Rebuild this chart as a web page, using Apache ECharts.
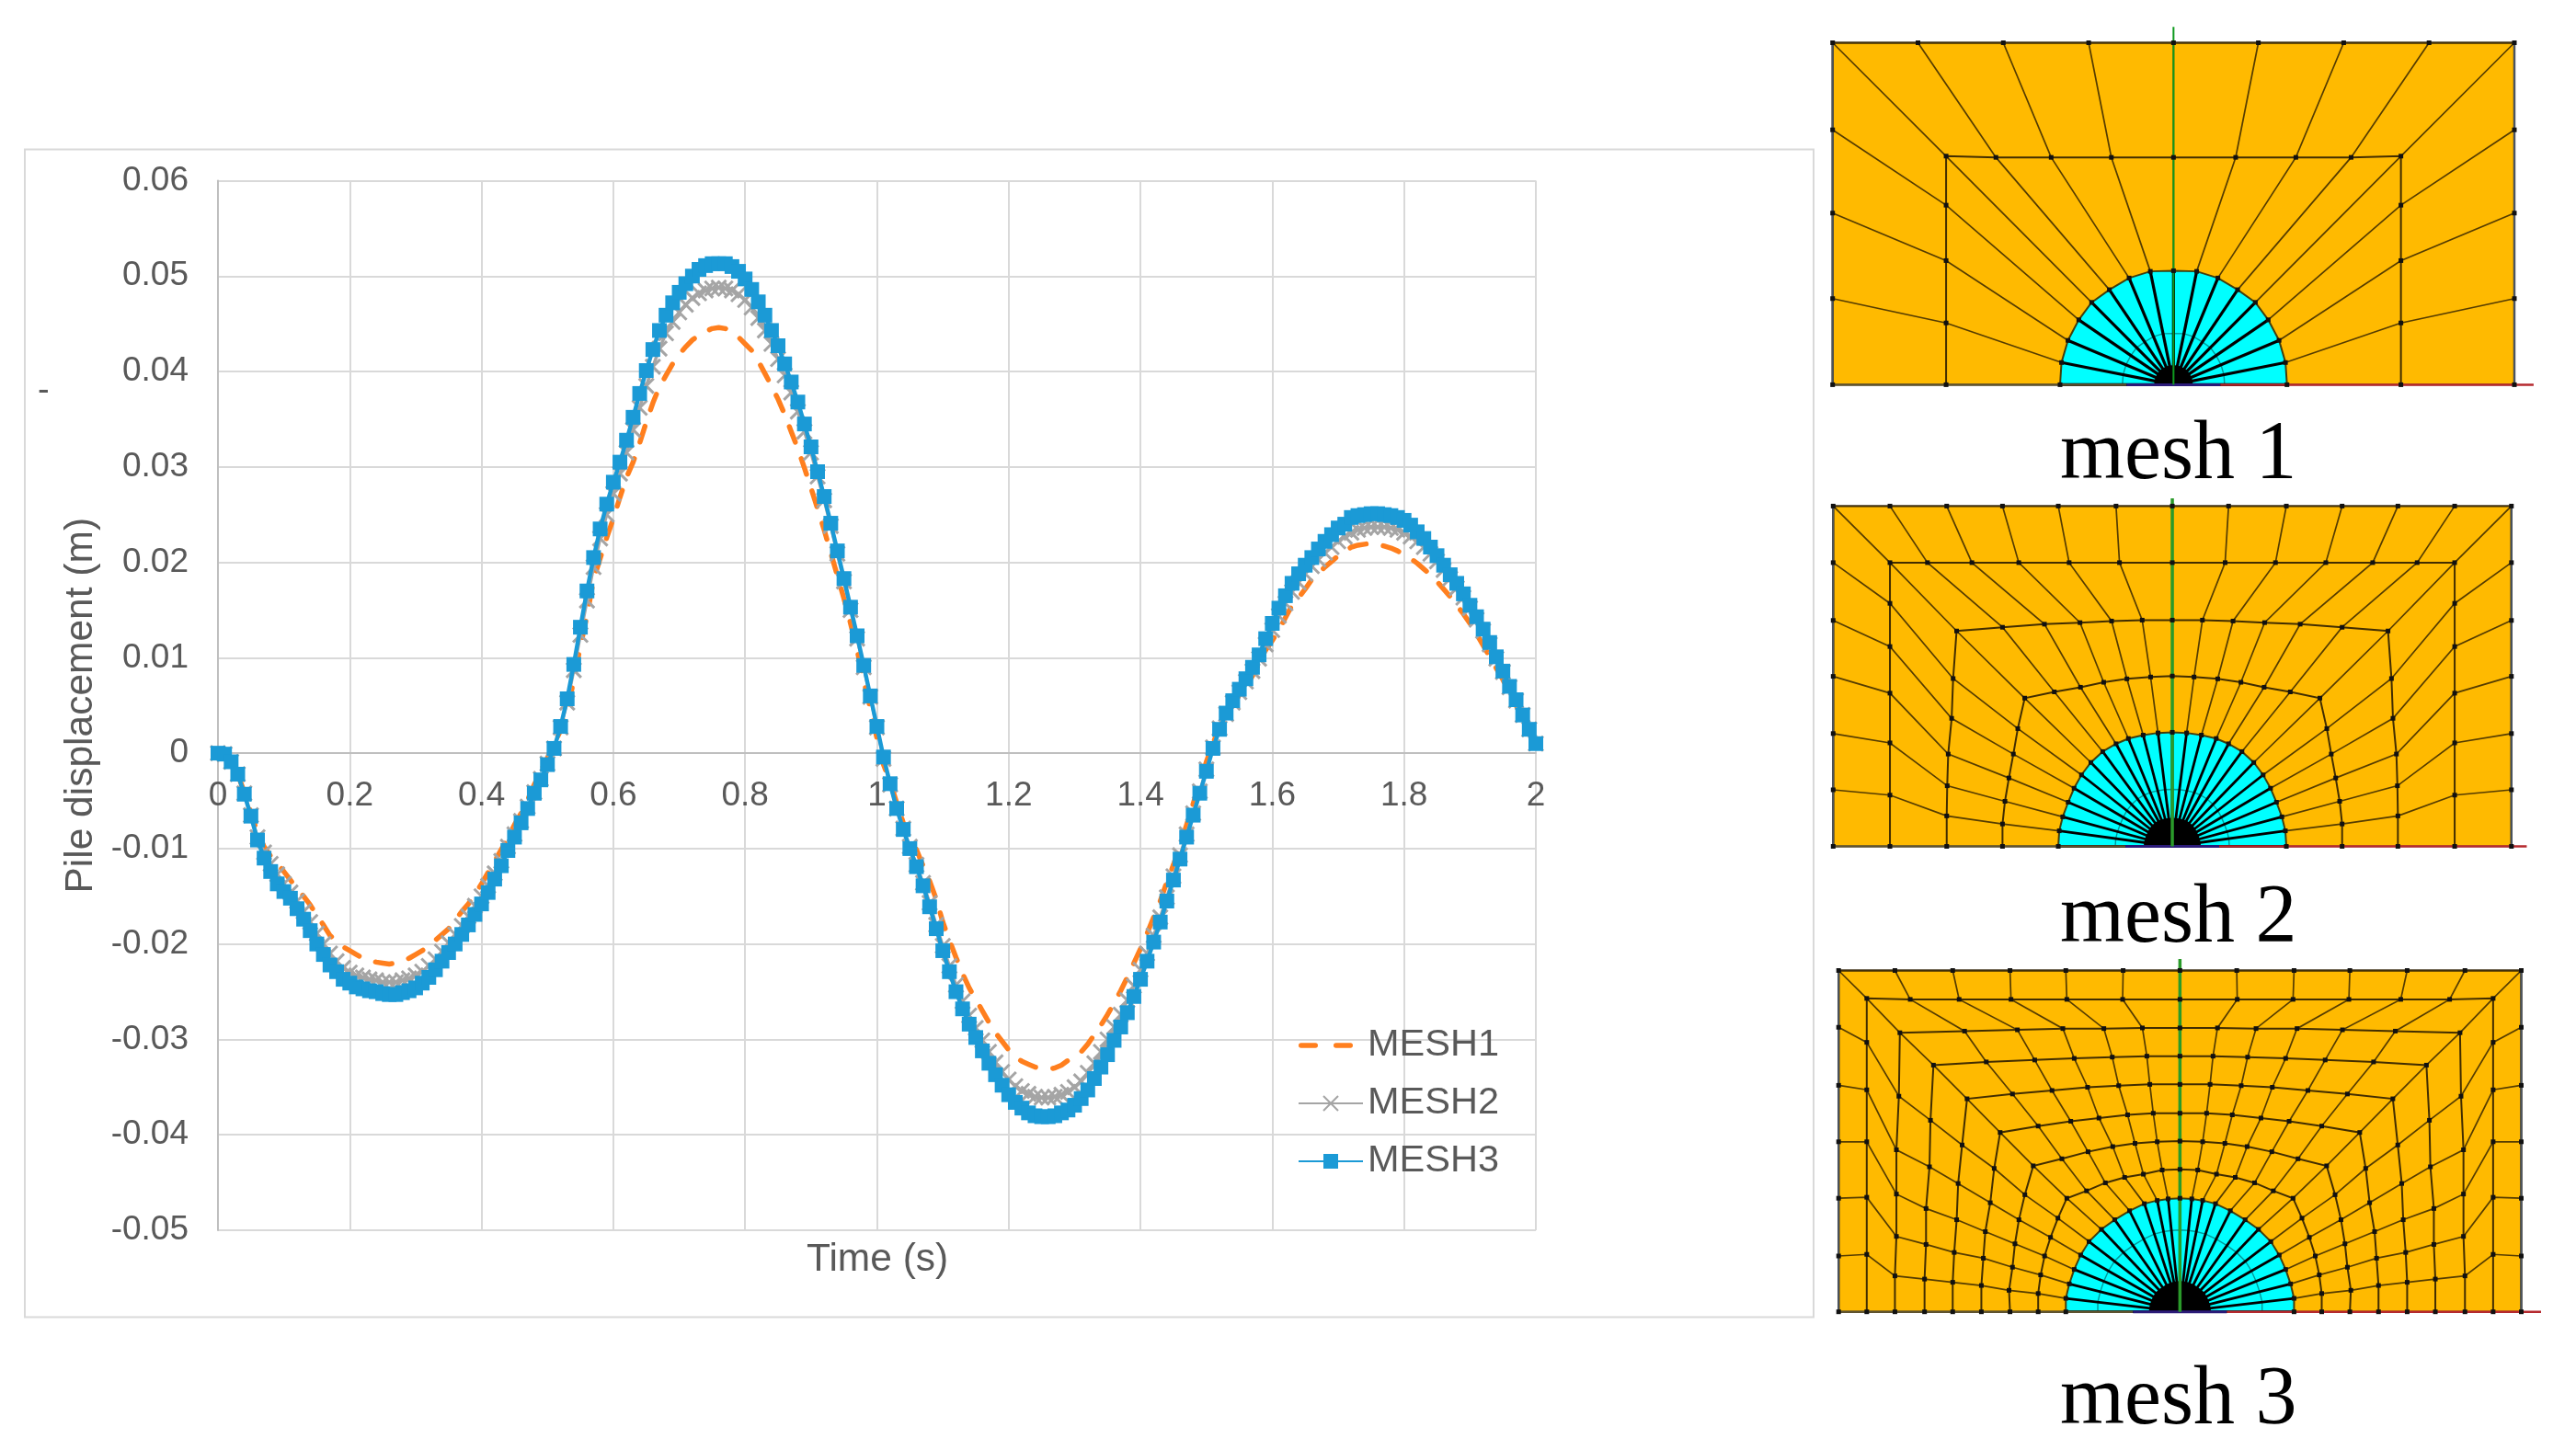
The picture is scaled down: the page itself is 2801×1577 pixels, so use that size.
<!DOCTYPE html>
<html>
<head>
<meta charset="utf-8">
<title>Pile displacement</title>
<script src="https://cdn.jsdelivr.net/npm/echarts@6/dist/echarts.min.js"></script>
<style>
	html, body { margin: 0; padding: 0; background: #fff; }
	#chart { width: 2801px; height: 1577px; }
</style>
</head>
<body>
<div id="chart"></div>
<script>
var times = [
	0, 0.01, 0.02, 0.03, 0.04, 0.05, 0.06, 0.07, 0.08, 0.09,
	0.1, 0.11, 0.12, 0.13, 0.14, 0.15, 0.16, 0.17, 0.18, 0.19,
	0.2, 0.21, 0.22, 0.23, 0.24, 0.25, 0.26, 0.27, 0.28, 0.29,
	0.3, 0.31, 0.32, 0.33, 0.34, 0.35, 0.36, 0.37, 0.38, 0.39,
	0.4, 0.41, 0.42, 0.43, 0.44, 0.45, 0.46, 0.47, 0.48, 0.49,
	0.5, 0.51, 0.52, 0.53, 0.54, 0.55, 0.56, 0.57, 0.58, 0.59,
	0.6, 0.61, 0.62, 0.63, 0.64, 0.65, 0.66, 0.67, 0.68, 0.69,
	0.7, 0.71, 0.72, 0.73, 0.74, 0.75, 0.76, 0.77, 0.78, 0.79,
	0.8, 0.81, 0.82, 0.83, 0.84, 0.85, 0.86, 0.87, 0.88, 0.89,
	0.9, 0.91, 0.92, 0.93, 0.94, 0.95, 0.96, 0.97, 0.98, 0.99,
	1, 1.01, 1.02, 1.03, 1.04, 1.05, 1.06, 1.07, 1.08, 1.09,
	1.1, 1.11, 1.12, 1.13, 1.14, 1.15, 1.16, 1.17, 1.18, 1.19,
	1.2, 1.21, 1.22, 1.23, 1.24, 1.25, 1.26, 1.27, 1.28, 1.29,
	1.3, 1.31, 1.32, 1.33, 1.34, 1.35, 1.36, 1.37, 1.38, 1.39,
	1.4, 1.41, 1.42, 1.43, 1.44, 1.45, 1.46, 1.47, 1.48, 1.49,
	1.5, 1.51, 1.52, 1.53, 1.54, 1.55, 1.56, 1.57, 1.58, 1.59,
	1.6, 1.61, 1.62, 1.63, 1.64, 1.65, 1.66, 1.67, 1.68, 1.69,
	1.7, 1.71, 1.72, 1.73, 1.74, 1.75, 1.76, 1.77, 1.78, 1.79,
	1.8, 1.81, 1.82, 1.83, 1.84, 1.85, 1.86, 1.87, 1.88, 1.89,
	1.9, 1.91, 1.92, 1.93, 1.94, 1.95, 1.96, 1.97, 1.98, 1.99,
	2
];

var mesh1Values = [
	0, -0.0001, -0.0009, -0.0022, -0.0041, -0.0063, -0.0083, -0.0098, -0.0108, -0.0116,
	-0.0124, -0.0133, -0.0142, -0.0150, -0.0159, -0.0170, -0.0180, -0.0191, -0.0197, -0.0203,
	-0.0207, -0.0211, -0.0215, -0.0217, -0.0219, -0.0220, -0.0221, -0.0220, -0.0218, -0.0215,
	-0.0211, -0.0207, -0.0202, -0.0196, -0.0190, -0.0184, -0.0175, -0.0166, -0.0158, -0.0148,
	-0.0137, -0.0125, -0.0113, -0.0101, -0.0089, -0.0075, -0.0063, -0.0049, -0.0033, -0.0019,
	-0.0005, 0.0009, 0.0024, 0.0044, 0.0077, 0.0112, 0.0144, 0.0182, 0.0204, 0.0226,
	0.0246, 0.0268, 0.0289, 0.0305, 0.0325, 0.0347, 0.0367, 0.0384, 0.0396, 0.0408,
	0.0418, 0.0426, 0.0433, 0.0438, 0.0442, 0.0445, 0.0446, 0.0445, 0.0442, 0.0436,
	0.0429, 0.0422, 0.0411, 0.0398, 0.0385, 0.0371, 0.0355, 0.0337, 0.0319, 0.0299,
	0.0278, 0.0256, 0.0234, 0.0210, 0.0186, 0.0162, 0.0136, 0.0108, 0.0076, 0.0047,
	0.0016, -0.0012, -0.0030, -0.0052, -0.0073, -0.0091, -0.0101, -0.0118, -0.0134, -0.0153,
	-0.0177, -0.0196, -0.0214, -0.0231, -0.0246, -0.0258, -0.0270, -0.0282, -0.0293, -0.0302,
	-0.0311, -0.0318, -0.0323, -0.0326, -0.0329, -0.0331, -0.0331, -0.0330, -0.0327, -0.0322,
	-0.0318, -0.0313, -0.0305, -0.0295, -0.0285, -0.0274, -0.0262, -0.0249, -0.0235, -0.0220,
	-0.0205, -0.0189, -0.0172, -0.0155, -0.0135, -0.0117, -0.0097, -0.0075, -0.0053, -0.0031,
	-0.0009, 0.0010, 0.0028, 0.0040, 0.0050, 0.0061, 0.0070, 0.0081, 0.0094, 0.0108,
	0.0118, 0.0129, 0.0142, 0.0155, 0.0163, 0.0172, 0.0182, 0.0189, 0.0195, 0.0201,
	0.0207, 0.0212, 0.0216, 0.0218, 0.0219, 0.0220, 0.0219, 0.0217, 0.0215, 0.0212,
	0.0208, 0.0204, 0.0199, 0.0193, 0.0187, 0.0180, 0.0172, 0.0164, 0.0155, 0.0146,
	0.0136, 0.0125, 0.0113, 0.0101, 0.0089, 0.0077, 0.0063, 0.0050, 0.0037, 0.0023,
	0.0009
];

var mesh2Values = [
	0, -0.0001, -0.0009, -0.0022, -0.0042, -0.0065, -0.0088, -0.0104, -0.0116, -0.0127,
	-0.0137, -0.0146, -0.0155, -0.0166, -0.0177, -0.0189, -0.0200, -0.0210, -0.0218, -0.0225,
	-0.0230, -0.0233, -0.0235, -0.0237, -0.0238, -0.0240, -0.0240, -0.0240, -0.0238, -0.0236,
	-0.0233, -0.0229, -0.0223, -0.0216, -0.0208, -0.0199, -0.0190, -0.0181, -0.0171, -0.0160,
	-0.0150, -0.0139, -0.0126, -0.0113, -0.0098, -0.0085, -0.0071, -0.0056, -0.0041, -0.0027,
	-0.0011, 0.0005, 0.0027, 0.0053, 0.0087, 0.0124, 0.0160, 0.0195, 0.0225, 0.0250,
	0.0272, 0.0293, 0.0315, 0.0339, 0.0362, 0.0385, 0.0405, 0.0424, 0.0440, 0.0452,
	0.0462, 0.0470, 0.0477, 0.0482, 0.0485, 0.0487, 0.0488, 0.0487, 0.0485, 0.0481,
	0.0475, 0.0467, 0.0456, 0.0443, 0.0429, 0.0413, 0.0396, 0.0378, 0.0358, 0.0337,
	0.0315, 0.0290, 0.0265, 0.0238, 0.0209, 0.0180, 0.0150, 0.0120, 0.0090, 0.0059,
	0.0027, -0.0006, -0.0033, -0.0058, -0.0079, -0.0098, -0.0117, -0.0136, -0.0157, -0.0180,
	-0.0202, -0.0223, -0.0243, -0.0260, -0.0275, -0.0288, -0.0301, -0.0313, -0.0324, -0.0334,
	-0.0342, -0.0349, -0.0354, -0.0357, -0.0360, -0.0361, -0.0361, -0.0360, -0.0358, -0.0355,
	-0.0350, -0.0344, -0.0335, -0.0325, -0.0313, -0.0300, -0.0287, -0.0274, -0.0259, -0.0244,
	-0.0227, -0.0210, -0.0191, -0.0172, -0.0151, -0.0129, -0.0107, -0.0085, -0.0063, -0.0040,
	-0.0017, 0.0006, 0.0026, 0.0041, 0.0053, 0.0064, 0.0075, 0.0086, 0.0099, 0.0114,
	0.0129, 0.0144, 0.0157, 0.0169, 0.0179, 0.0188, 0.0196, 0.0203, 0.0210, 0.0216,
	0.0222, 0.0227, 0.0231, 0.0234, 0.0236, 0.0237, 0.0237, 0.0237, 0.0236, 0.0234,
	0.0231, 0.0227, 0.0222, 0.0216, 0.0209, 0.0201, 0.0192, 0.0183, 0.0173, 0.0163,
	0.0152, 0.0140, 0.0128, 0.0114, 0.0099, 0.0085, 0.0069, 0.0055, 0.0040, 0.0025,
	0.0010
];

var mesh3Values = [
	0, -0.0001, -0.0009, -0.0022, -0.0043, -0.0066, -0.0091, -0.0110, -0.0124, -0.0137,
	-0.0145, -0.0152, -0.0163, -0.0174, -0.0186, -0.0200, -0.0211, -0.0222, -0.0229, -0.0237,
	-0.0241, -0.0245, -0.0247, -0.0249, -0.0250, -0.0252, -0.0253, -0.0253, -0.0251, -0.0249,
	-0.0246, -0.0241, -0.0235, -0.0227, -0.0218, -0.0209, -0.0200, -0.0190, -0.0180, -0.0169,
	-0.0158, -0.0146, -0.0132, -0.0118, -0.0102, -0.0088, -0.0073, -0.0058, -0.0042, -0.0028,
	-0.0012, 0.0005, 0.0028, 0.0057, 0.0093, 0.0132, 0.0170, 0.0205, 0.0235, 0.0261,
	0.0284, 0.0305, 0.0328, 0.0352, 0.0377, 0.0401, 0.0423, 0.0443, 0.0459, 0.0472,
	0.0483, 0.0492, 0.0500, 0.0507, 0.0511, 0.0513, 0.0513, 0.0513, 0.0510, 0.0505,
	0.0497, 0.0486, 0.0473, 0.0459, 0.0443, 0.0427, 0.0408, 0.0389, 0.0368, 0.0345,
	0.0321, 0.0295, 0.0269, 0.0241, 0.0212, 0.0183, 0.0153, 0.0123, 0.0092, 0.0060,
	0.0028, -0.0004, -0.0032, -0.0058, -0.0080, -0.0100, -0.0119, -0.0139, -0.0161, -0.0184,
	-0.0207, -0.0229, -0.0250, -0.0268, -0.0284, -0.0298, -0.0312, -0.0325, -0.0337, -0.0348,
	-0.0358, -0.0366, -0.0372, -0.0377, -0.0380, -0.0381, -0.0381, -0.0380, -0.0377, -0.0374,
	-0.0369, -0.0362, -0.0353, -0.0341, -0.0329, -0.0316, -0.0301, -0.0287, -0.0272, -0.0255,
	-0.0237, -0.0218, -0.0198, -0.0177, -0.0155, -0.0133, -0.0111, -0.0088, -0.0065, -0.0042,
	-0.0019, 0.0005, 0.0025, 0.0042, 0.0055, 0.0067, 0.0078, 0.0090, 0.0103, 0.0120,
	0.0136, 0.0152, 0.0165, 0.0178, 0.0188, 0.0197, 0.0205, 0.0214, 0.0222, 0.0229,
	0.0236, 0.0240, 0.0247, 0.0249, 0.0250, 0.0251, 0.0251, 0.0250, 0.0249, 0.0247,
	0.0244, 0.0239, 0.0232, 0.0225, 0.0216, 0.0207, 0.0197, 0.0187, 0.0178, 0.0167,
	0.0155, 0.0143, 0.0130, 0.0116, 0.0101, 0.0086, 0.0070, 0.0056, 0.0040, 0.0025,
	0.0010
];

// mesh drawings: left half of each ring, outermost first, [offset from centre, height above base]
var mesh1Rings = [
	[[-691,0],[-691,272],[-691,542],[-691,805],[-691,1080],[-518,1080],[-345,1080],[-172,1080],[0,1080]],
	[[-461,0],[-461,195],[-461,392],[-461,567],[-461,722],[-360,718],[-248,718],[-126,718],[0,718]],
	[[-230,0],[-227,70],[-214,140],[-192,205],[-166,260],[-130,300],[-90,337],[-47,358],[0,360]]
];
var mesh2Rings = [
	[[-687,0],[-687,182],[-687,363],[-687,547],[-687,727],[-687,913],[-687,1095],[-572,1095],[-457,1095],[-344,1095],[-231,1095],[-114,1095],[0,1095]],
	[[-572,0],[-572,165],[-572,333],[-572,493],[-572,643],[-572,782],[-572,913],[-496,913],[-406,913],[-311,913],[-209,913],[-107,913],[0,913]],
	[[-457,0],[-457,98],[-456,195],[-454,297],[-447,412],[-444,540],[-437,693],[-344,705],[-259,715],[-187,720],[-123,725],[-61,728],[0,728]],
	[[-344,0],[-344,72],[-339,145],[-331,220],[-322,297],[-313,379],[-299,477],[-239,497],[-186,512],[-139,528],[-92,539],[-44,545],[0,548]],
	[[-231,0],[-229,50],[-222,95],[-211,142],[-199,187],[-184,230],[-165,270],[-141,305],[-114,330],[-89,347],[-59,358],[-29,365],[0,367]]
];
var mesh3Rings = [
	[[-691,0],[-691,174],[-691,354],[-691,530],[-691,706],[-691,887],[-691,1064],[-577,1064],[-460,1064],[-344,1064],[-231,1064],[-115,1064],[0,1064]],
	[[-634,0],[-634,179],[-634,357],[-634,530],[-634,692],[-634,840],[-634,977],[-546,974],[-447,974],[-342,974],[-229,974],[-116,974],[0,974]],
	[[-577,0],[-577,112],[-574,235],[-574,367],[-574,505],[-569,672],[-567,870],[-436,875],[-329,879],[-237,883],[-154,883],[-76,885],[0,885]],
	[[-517,0],[-517,102],[-514,210],[-514,322],[-507,452],[-505,597],[-499,769],[-392,779],[-294,785],[-214,790],[-137,794],[-67,797],[0,797]],
	[[-460,0],[-460,92],[-457,185],[-452,287],[-449,400],[-441,520],[-431,664],[-339,679],[-259,690],[-187,700],[-124,705],[-61,709],[0,709]],
	[[-402,0],[-402,82],[-398,167],[-394,250],[-384,340],[-376,447],[-364,559],[-287,579],[-221,594],[-164,604],[-106,614],[-54,619],[0,619]],
	[[-344,0],[-346,67],[-339,139],[-334,212],[-326,287],[-314,365],[-297,455],[-239,477],[-186,499],[-136,515],[-91,525],[-46,530],[0,532]],
	[[-287,0],[-287,57],[-282,115],[-274,174],[-262,232],[-247,292],[-229,354],[-189,377],[-151,402],[-112,419],[-74,429],[-36,442],[0,444]],
	[[-231,0],[-231,42],[-224,87],[-214,132],[-201,177],[-184,219],[-159,257],[-132,287],[-102,315],[-72,337],[-46,347],[-24,352],[0,354]]
];
var meshCaptions = ['mesh 1', 'mesh 2', 'mesh 3'];
var meshStemTop = [1130, 1120, 1100];
var meshRedEnd = [730, 718, 731];
var meshCoreSize = [0.17, 0.25, 0.27];
var meshInnerRing = [0.45, 0.5, 0.72];

// left half + mirrored right half
function wholeRing(half) {
	var ring = half.slice();
	for (var i = half.length - 2; i >= 0; i--) {
		ring.push([-half[i][0], half[i][1]]);
	}
	return ring;
}

function pairs(vals) {
	return times.map(function(t, i) {
		return [t, vals[i]];
	});
}

// one mesh panel, everything goes through api.coord of its hidden axes
function meshSeries(rings, idx) {
	var whole = rings.map(wholeRing);
	var outer = whole[0];
	var rim = whole[whole.length - 1];
	return {
		type: 'custom',
		xAxisIndex: idx + 1,
		yAxisIndex: idx + 1,
		z: 1,
		silent: true,
		data: [[0, 0]],
		renderItem: function(params, api) {
			var kids = [];
			function pts(list) {
				return list.map(function(p) { return api.coord(p); });
			}
			function poly(list, fill) {
				kids.push({ type: 'polygon', shape: { points: pts(list) }, style: { fill: fill } });
			}
			function stroke(list, color, w) {
				kids.push({ type: 'polyline', shape: { points: pts(list) }, style: { fill: 'none', stroke: color, lineWidth: w } });
			}
			function scaled(list, k) {
				return list.map(function(p) { return [p[0] * k, p[1] * k]; });
			}
			poly(outer, '#FFBA00');
			poly(rim, '#00FFFF');
			// spokes between rings
			for (var n = 0; n < rim.length; n++) {
				var spoke = whole.map(function(ring) { return ring[n]; });
				stroke(spoke, 'rgba(55,38,0,0.85)', 1.7);
				stroke([rim[n], [0, 0]], '#000', idx === 0 ? 3.2 : 2.8);
			}
			stroke(scaled(rim, meshInnerRing[idx]), 'rgba(0,0,0,0.4)', 1.4);
			// rings
			whole.forEach(function(ring, r) {
				var dark = r === whole.length - 1 ? 'rgba(60,45,0,0.9)' : 'rgba(45,30,0,0.9)';
				stroke(ring, dark, r === 0 ? 2.4 : 2);
			});
			stroke(outer.slice(0, Math.floor(outer.length / 4) + 1), '#4a5563', 2);
			stroke(outer.slice(-Math.floor(outer.length / 4) - 1), '#4a5563', 2);
			// black core where the spokes meet
			poly(scaled(rim, meshCoreSize[idx]), '#000');
			// base line and centre stem
			stroke([outer[0], [-95, 0]], '#5f5330', 2.5);
			stroke([[-95, 0], [95, 0]], '#2b1a78', 3);
			stroke([[95, 0], [meshRedEnd[idx], 0]], '#b5292e', 2.5);
			stroke([[0, 0], [0, meshStemTop[idx]]], idx === 0 ? '#0f9a1f' : '#2a9a2a', idx === 0 ? 2 : 3.5);
			// nodes
			whole.forEach(function(ring) {
				ring.forEach(function(p) {
					var c = api.coord(p);
					kids.push({ type: 'rect', shape: { x: c[0] - 2.5, y: c[1] - 2.5, width: 5, height: 5 }, style: { fill: '#111' } });
				});
			});
			return { type: 'group', children: kids };
		}
	};
}

function hiddenAxis(min, max) {
	return { type: 'value', show: false, min: min, max: max };
}

var textGrey = '#595959';
var sansFont = '"Liberation Sans", Arial, sans-serif';
var captionFont = '90px "Liberation Serif", serif';
// two dashes for the MESH1 legend key, the last point keeps the key as wide as the others
var dashIcon = 'path://M2.75 0H18.25A2.75 2.75 0 0 1 18.25 5.5H2.75A2.75 2.75 0 0 1 2.75 0ZM40.75 0H56.25A2.75 2.75 0 0 1 56.25 5.5H40.75A2.75 2.75 0 0 1 40.75 0ZM70 2.75L70 2.75Z';

var myChart = echarts.init(document.getElementById('chart'));
var option = {
	backgroundColor: '#fff',
	animation: false,
	grid: [
		{ left: 237, top: 196.5, width: 1433, height: 1141.5 },
		{ left: 1992.7, top: 46.5, width: 741.3, height: 371.9 },
		{ left: 1993.3, top: 550.4, width: 737.5, height: 370.1 },
		{ left: 1999.2, top: 1055.5, width: 742.3, height: 371.2 }
	],
	xAxis: [{
		gridIndex: 0,
		type: 'value',
		min: 0,
		max: 2,
		interval: 0.2,
		position: 'bottom',
		offset: -519,
		axisLine: { onZero: false, lineStyle: { color: '#bfbfbf', width: 2 } },
		axisTick: { show: false },
		axisLabel: { color: textGrey, fontFamily: sansFont, fontSize: 37, margin: 28, showMinLabel: true, showMaxLabel: true },
		splitLine: { show: true, lineStyle: { color: '#d9d9d9', width: 2 } }
	},
	Object.assign(hiddenAxis(-691, 691), { gridIndex: 1 }),
	Object.assign(hiddenAxis(-687, 687), { gridIndex: 2 }),
	Object.assign(hiddenAxis(-691, 691), { gridIndex: 3 })],
	yAxis: [{
		gridIndex: 0,
		type: 'value',
		min: -0.05,
		max: 0.06,
		interval: 0.01,
		name: 'Pile displacement (m)',
		nameLocation: 'middle',
		nameGap: 127,
		nameTextStyle: { color: textGrey, fontFamily: sansFont, fontSize: 42.5 },
		axisLine: { show: true, onZero: false, lineStyle: { color: '#bfbfbf', width: 2 } },
		axisTick: { show: false },
		axisLabel: { color: textGrey, fontFamily: sansFont, fontSize: 37, margin: 32, padding: [8, 0, 0, 0], showMinLabel: true, showMaxLabel: true },
		splitLine: { show: true, lineStyle: { color: '#d9d9d9', width: 2 } }
	},
	Object.assign(hiddenAxis(0, 1080), { gridIndex: 1 }),
	Object.assign(hiddenAxis(0, 1095), { gridIndex: 2 }),
	Object.assign(hiddenAxis(0, 1064), { gridIndex: 3 })],
	legend: {
		data: [{ name: 'MESH1', icon: dashIcon }, { name: 'MESH2' }, { name: 'MESH3' }],
		orient: 'vertical',
		left: 1406,
		top: 1111,
		itemWidth: 70,
		itemHeight: 20,
		itemGap: 21,
		textStyle: { color: textGrey, fontFamily: sansFont, fontSize: 41.5, padding: [0, 0, 0, 0] }
	},
	series: [{
		name: 'MESH1',
		type: 'line',
		z: 2,
		data: pairs(mesh1Values),
		showSymbol: false,
		symbol: 'none',
		lineStyle: { color: '#FF7F1E', width: 5.5, type: [18, 19], cap: 'round' },
		itemStyle: { color: '#FF7F1E' }
	}, {
		name: 'MESH2',
		type: 'line',
		z: 3,
		data: pairs(mesh2Values),
		symbol: 'path://M0 0L10 10M10 0L0 10',
		symbolSize: 16,
		lineStyle: { color: '#A5A5A5', width: 3.5 },
		itemStyle: { color: 'none', borderColor: '#A5A5A5', borderWidth: 3 }
	}, {
		name: 'MESH3',
		type: 'line',
		z: 4,
		data: pairs(mesh3Values),
		symbol: 'rect',
		symbolSize: 16,
		lineStyle: { color: '#1B9AD6', width: 4.5 },
		itemStyle: { color: '#1B9AD6' }
	},
	meshSeries(mesh1Rings, 0),
	meshSeries(mesh2Rings, 1),
	meshSeries(mesh3Rings, 2)],
	graphic: [
		{ type: 'rect', z: -1, shape: { x: 27, y: 162.5, width: 1945, height: 1270 }, style: { fill: 'none', stroke: '#d9d9d9', lineWidth: 2 } },
		{ type: 'text', left: 877, top: 1349, style: { text: 'Time (s)', fill: textGrey, font: '42.5px ' + sansFont } },
		{ type: 'text', left: 41, top: 407, style: { text: '-', fill: textGrey, font: '38px ' + sansFont } },
		{ type: 'text', left: 2240, top: 451, style: { text: meshCaptions[0], fill: '#000', font: captionFont } },
		{ type: 'text', left: 2240, top: 955, style: { text: meshCaptions[1], fill: '#000', font: captionFont } },
		{ type: 'text', left: 2240, top: 1479, style: { text: meshCaptions[2], fill: '#000', font: captionFont } }
	]
};
myChart.setOption(option);
</script>
</body>
</html>
